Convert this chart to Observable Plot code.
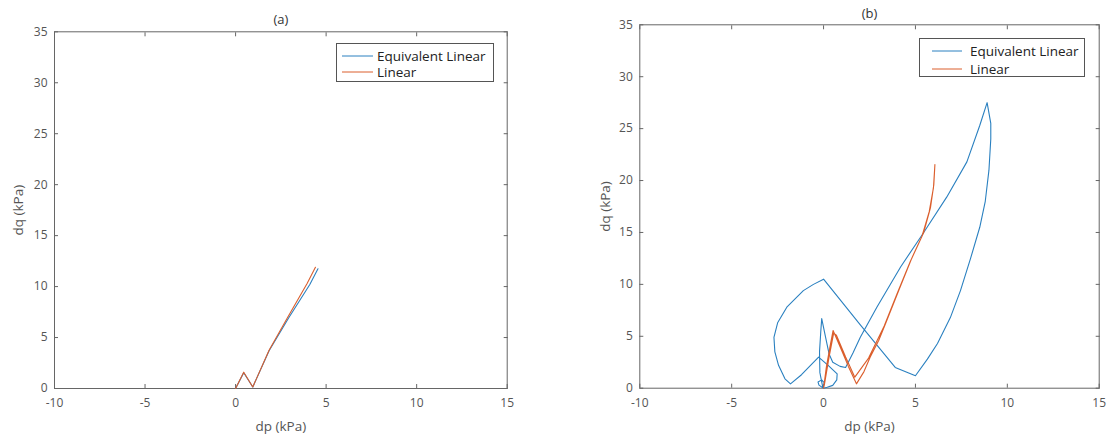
<!DOCTYPE html>
<html><head><meta charset="utf-8">
<script src="https://cdn.jsdelivr.net/npm/d3@7"></script>
<script src="https://cdn.jsdelivr.net/npm/@observablehq/plot@0.6"></script>
<style>
body{margin:0;background:#fff;font-family:"Open Sans",sans-serif;}
#wrap{position:relative;width:1107px;height:437px;overflow:hidden;background:#fff;}
.panel{position:absolute;top:0;}
.legend{position:absolute;border:1px solid #555;background:#fff;font-size:13.5px;color:#222;box-sizing:border-box;}
.row{position:absolute;left:0;height:16px;line-height:16px;white-space:nowrap;}
.row svg{position:absolute;top:0;}
.row span{position:absolute;top:0;}
</style></head><body><div id="wrap"></div>
<script>
// ---- data ----
const xTicks = [-10, -5, 0, 5, 10, 15];
const yTicks = [0, 5, 10, 15, 20, 25, 30, 35];
const seriesNames = ["Equivalent Linear", "Linear"];
const seriesColors = ["#2a80c0", "#db5e2c"];
const panelTitles = ["(a)", "(b)"];

// panel (a)
const aEqDp = [0, 0.45, 0.95, 1.85, 2.92, 4.1, 4.55];
const aEqDq = [0, 1.55, 0.15, 3.7, 6.9, 10.2, 11.75];
const aLinDp = [0, 0.45, 0.95, 1.85, 2.88, 3.95, 4.41];
const aLinDq = [0, 1.6, 0.15, 3.75, 7.0, 10.3, 11.9];

// panel (b)
const bEqDp = [0, -0.25, -0.3, -0.1, 0.05, -0.05,
  -0.2, -0.22, -0.15, -0.1,
  0.1, 0.3, 0.5, 0.9, 1.2,
  1.6, 2.0, 2.9, 4.2, 5.45, 6.7, 7.8, 8.5, 8.9,
  9.1, 9.1, 9.0, 8.8, 8.5, 8.0, 7.45, 6.9, 6.2, 5.65, 5.0,
  3.9, 2.0, 0,
  -0.55, -1.1, -2.0, -2.5, -2.7, -2.65, -2.45, -2.1, -1.8,
  -1.2, -0.27,
  0.25, 0.74, 0.72, 0.5, 0.2, 0];
const bEqDq = [0, 0.3, 0.6, 0.8, 0.5, 0.15,
  1.5, 3.5, 5.5, 6.7,
  5.0, 3.3, 2.5, 2.1, 2.0,
  3.4, 4.9, 7.8, 11.7, 15.0, 18.4, 21.8, 25.3, 27.5,
  25.5, 24.0, 21.0, 18.0, 15.5, 12.5, 9.4, 6.8, 4.3, 2.8, 1.2,
  2.0, 6.1, 10.5,
  10.0, 9.4, 7.8, 6.3, 4.9, 3.5, 2.2, 0.9, 0.42,
  1.3, 3.0,
  2.2, 1.38, 0.8, 0.27, 0.1, 0];
const bLinDp = [0, 0.15, 0.35, 0.52, 0.9, 1.35, 1.79, 2.2, 2.54, 3.0, 3.37, 4.09, 4.82, 5.45, 5.82, 6.0, 6.06,
  5.98, 5.75, 5.35, 4.72, 4.0, 3.3, 2.45, 1.7, 1.2, 0.7, 0.55, 0.3, 0.05, 0];
const bLinDq = [0, 2.0, 4.0, 5.56, 4.0, 2.1, 0.42, 1.6, 3.0, 4.6, 6.2, 9.4, 12.6, 15.0, 17.4, 19.6, 21.55,
  19.3, 17.0, 14.6, 12.2, 9.1, 6.0, 2.9, 1.06, 3.0, 5.1, 5.3, 3.0, 0.4, 0];

const toRows = (dp, dq) => dp.map((v, i) => ({dp: v, dq: dq[i]}));

function panel(cfg) {
  const chart = Plot.plot({
    width: cfg.width, height: 437,
    marginLeft: cfg.mL, marginRight: cfg.mR, marginTop: cfg.mT, marginBottom: cfg.mB,
    style: {fontFamily: "Open Sans", fontSize: "12px", color: "#555", background: "transparent", overflow: "visible"},
    x: {domain: [-10, 15]},
    y: {domain: [0, 35]},
    marks: [
      Plot.frame({stroke: "#666"}),
      Plot.axisX(xTicks, {anchor: "bottom", tickSize: -4, tickPadding: 14, tickFormat: d => String(d), label: null, stroke: "#666"}),
      Plot.axisX(xTicks, {anchor: "top", tickSize: -4, tickFormat: () => "", label: null, stroke: "#666"}),
      Plot.axisY(yTicks, {anchor: "left", tickSize: -4, tickPadding: 11, tickFormat: d => String(d), label: null, stroke: "#666"}),
      Plot.axisY(yTicks, {anchor: "right", tickSize: -4, tickFormat: () => "", label: null, stroke: "#666"}),
      Plot.line(cfg.eq, {x: "dp", y: "dq", stroke: seriesColors[0], strokeWidth: 1.1}),
      Plot.line(cfg.lin, {x: "dp", y: "dq", stroke: seriesColors[1], strokeWidth: 1.1}),
      Plot.text([cfg.title], {frameAnchor: "top", lineAnchor: "middle", dy: cfg.titleDy, fontSize: 13, fill: "#333", text: d => d}),
      Plot.text(["dp (kPa)"], {frameAnchor: "bottom", lineAnchor: "middle", dy: 38, fontSize: 13.5, fill: "#555", text: d => d}),
      Plot.text(["dq (kPa)"], {frameAnchor: "left", textAnchor: "middle", lineAnchor: "middle", dx: cfg.yLabDx, rotate: -90, fontSize: 13.5, fill: "#555", text: d => d})
    ]
  });
  chart.classList.add("panel");
  chart.style.left = cfg.left + "px";
  return chart;
}

function legend(cfg) {
  const box = document.createElement("div");
  box.className = "legend";
  Object.assign(box.style, {left: cfg.left + "px", top: cfg.top + "px", width: cfg.w + "px", height: cfg.h + "px"});
  seriesNames.forEach((name, i) => {
    const row = document.createElement("div");
    row.className = "row";
    row.style.top = (cfg.rows[i] - 8) + "px";
    row.style.width = cfg.w + "px";
    row.innerHTML = `<svg width="${cfg.lineX2}" height="16" style="left:0"><line x1="${cfg.lineX1}" x2="${cfg.lineX2}" y1="8" y2="8" stroke="${seriesColors[i]}" stroke-width="1"/></svg><span style="left:${cfg.textX}px">${name}</span>`;
    box.appendChild(row);
  });
  return box;
}

const wrap = document.getElementById("wrap");
wrap.appendChild(panel({title: panelTitles[0], left: 0, width: 560, mL: 54, mR: 53.3, mT: 31.3, mB: 49, titleDy: -12, yLabDx: -36,
  eq: toRows(aEqDp, aEqDq), lin: toRows(aLinDp, aLinDq)}));
wrap.appendChild(panel({title: panelTitles[1], left: 560, width: 547, mL: 79.3, mR: 8.3, mT: 24.3, mB: 49.3, titleDy: -11, yLabDx: -34,
  eq: toRows(bEqDp, bEqDq), lin: toRows(bLinDp, bLinDq)}));
wrap.appendChild(legend({left: 336, top: 43, w: 158, h: 39, rows: [12, 28], lineX1: 5, lineX2: 36, textX: 40}));
wrap.appendChild(legend({left: 919, top: 38, w: 166, h: 39, rows: [11.5, 29.5], lineX1: 12, lineX2: 42, textX: 50}));
</script></body></html>
